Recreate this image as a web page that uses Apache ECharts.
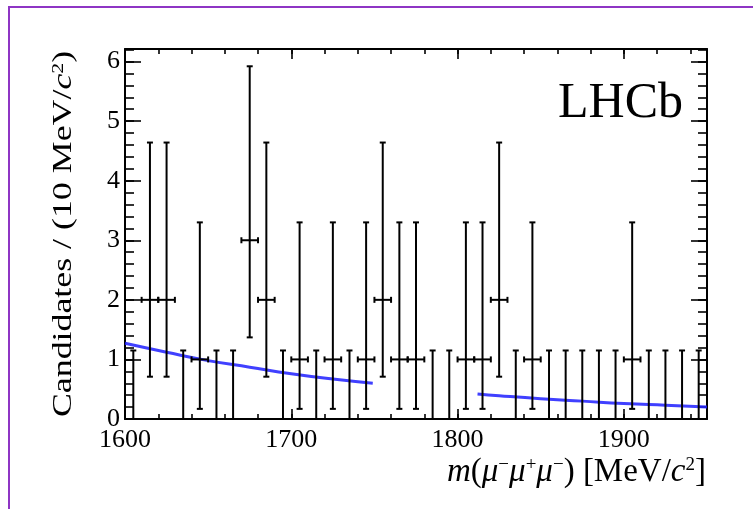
<!DOCTYPE html>
<html>
<head>
<meta charset="utf-8">
<script src="https://cdn.jsdelivr.net/npm/echarts@6/dist/echarts.min.js"></script>
<style>
    html, body { margin: 0; padding: 0; background: #fff; }
    #main { width: 753px; height: 509px; }
</style>
</head>
<body>
<div id="main"></div>
<script>
// bin centres (10 MeV bins)
var binCenters = [1605, 1615, 1625, 1635, 1645, 1655, 1665, 1675, 1685, 1695,
    1705, 1715, 1725, 1735, 1745, 1755, 1765, 1775, 1785, 1795,
    1805, 1815, 1825, 1835, 1845, 1855, 1865, 1875, 1885, 1895,
    1905, 1915, 1925, 1935, 1945];
// candidates per bin
var counts = [0, 2, 2, 0, 1, 0, 0, 3, 2, 0,
    1, 0, 1, 0, 1, 2, 1, 1, 0, 0,
    1, 1, 2, 0, 1, 0, 0, 0, 0, 0,
    1, 0, 0, 0, 0];
// error bar ends
var errLow = [0, 0.71, 0.71, 0, 0.17, 0, 0, 1.37, 0.71, 0,
    0.17, 0, 0.17, 0, 0.17, 0.71, 0.17, 0.17, 0, 0,
    0.17, 0.17, 0.71, 0, 0.17, 0, 0, 0, 0, 0,
    0.17, 0, 0, 0, 0];
var errHigh = [1.15, 4.64, 4.64, 1.15, 3.30, 1.15, 1.15, 5.92, 4.64, 1.15,
    3.30, 1.15, 3.30, 1.15, 3.30, 4.64, 3.30, 3.30, 1.15, 1.15,
    3.30, 3.30, 4.64, 1.15, 3.30, 1.15, 1.15, 1.15, 1.15, 1.15,
    3.30, 1.15, 1.15, 1.15, 1.15];
// fit curve (two sidebands)
var fitLeftX = [1600, 1625, 1650, 1675, 1700, 1725, 1749];
var fitLeftY = [1.27, 1.12, 0.98, 0.87, 0.76, 0.67, 0.60];
var fitRightX = [1812, 1825, 1850, 1875, 1900, 1925, 1950];
var fitRightY = [0.42, 0.39, 0.34, 0.30, 0.26, 0.23, 0.20];

var FONT = 'Liberation Serif';

var pointData = binCenters.map(function (x, i) {
    return [x, counts[i], errLow[i], errHigh[i]];
});

function pairs(xs, ys) {
    return xs.map(function (x, i) { return [x, ys[i]]; });
}

// one axis: major or minor ticks only
function xAx(pos, interval, len, labels) {
    return {
        type: 'value', position: pos, min: 1600, max: 1950, interval: interval,
        axisLine: { show: labels, onZero: false, lineStyle: { color: '#000', width: 2 } },
        axisTick: { inside: true, length: len, lineStyle: { color: '#000', width: 1.6 } },
        axisLabel: {
            show: labels && pos === 'bottom', showMaxLabel: false, margin: 8,
            fontFamily: FONT, fontSize: 26, color: '#000',
            formatter: function (v) { return String(v); }
        },
        splitLine: { show: false }
    };
}
function yAx(pos, interval, len, labels) {
    return {
        type: 'value', position: pos, min: 0, max: 6.21, interval: interval,
        axisLine: { show: labels, onZero: false, lineStyle: { color: '#000', width: 2 } },
        axisTick: { inside: true, length: len, lineStyle: { color: '#000', width: 1.6 } },
        axisLabel: {
            show: labels && pos === 'left', showMaxLabel: false, margin: 5,
            fontFamily: FONT, fontSize: 26, color: '#000'
        },
        splitLine: { show: false }
    };
}

var mychart = echarts.init(document.getElementById('main'));

mychart.setOption({
    animation: false,
    grid: { left: 125, right: 46, top: 49, bottom: 90 },
    xAxis: [
        xAx('bottom', 100, 10, true),
        xAx('bottom', 20, 5, false),
        xAx('top', 100, 10, true),
        xAx('top', 20, 5, false)
    ],
    yAxis: [
        yAx('left', 1, 16, true),
        yAx('left', 0.2, 9, false),
        yAx('right', 1, 16, true),
        yAx('right', 0.2, 9, false)
    ],
    graphic: [
        // purple frame
        { type: 'polyline', shape: { points: [[9, 509], [9, 7], [753, 7]] },
          style: { stroke: '#8e35c4', lineWidth: 2, fill: null } },
        { type: 'text', x: 683, y: 104,
          style: { text: 'LHCb', fontFamily: FONT, fontSize: 50, fill: '#000',
                   textAlign: 'right', textVerticalAlign: 'middle' } },
        // y title
        { type: 'text', x: 64, y: 234, rotation: Math.PI / 2, scaleX: 1.28,
          style: {
              text: 'Candidates / (10 MeV/{i|c}{s|2})',
              fontFamily: FONT, fontSize: 28, fill: '#000',
              textAlign: 'center', textVerticalAlign: 'middle',
              rich: {
                  i: { fontFamily: FONT, fontSize: 28, fontStyle: 'italic', fill: '#000' },
                  s: { fontFamily: FONT, fontSize: 17, fill: '#000', verticalAlign: 'top' }
              }
          } },
        // x title
        { type: 'text', x: 706, y: 472,
          style: {
              text: '{i|m}({i|μ}{s|−}{i|μ}{s|+}{i|μ}{s|−}) [MeV/{i|c}{s|2}]',
              fontFamily: FONT, fontSize: 33, fill: '#000',
              textAlign: 'right', textVerticalAlign: 'middle',
              rich: {
                  i: { fontFamily: FONT, fontSize: 33, fontStyle: 'italic', fill: '#000' },
                  s: { fontFamily: FONT, fontSize: 19, fill: '#000', verticalAlign: 'top' }
              }
          } }
    ],
    series: [
        {
            name: 'fit-left', type: 'line', smooth: true, showSymbol: false,
            data: pairs(fitLeftX, fitLeftY),
            lineStyle: { color: '#1f1fff', width: 3, opacity: 0.85 }, z: 1
        },
        {
            name: 'fit-right', type: 'line', smooth: true, showSymbol: false,
            data: pairs(fitRightX, fitRightY),
            lineStyle: { color: '#1f1fff', width: 3, opacity: 0.85 }, z: 1
        },
        {
            name: 'data', type: 'custom', z: 3,
            data: pointData,
            renderItem: function (params, api) {
                var x = api.value(0), n = api.value(1);
                var c = api.coord([x, n]);
                var t = api.coord([x, api.value(3)]);
                var b = api.coord([x, api.value(2)]);
                var hw = api.size([10, 0])[0] / 2;
                var st = { stroke: '#000', lineWidth: 2 };
                var cap = 3;
                var kids = [
                    { type: 'line', shape: { x1: b[0], y1: b[1], x2: t[0], y2: t[1] }, style: st },
                    { type: 'line', shape: { x1: t[0] - cap, y1: t[1], x2: t[0] + cap, y2: t[1] }, style: st },
                    { type: 'line', shape: { x1: b[0] - cap, y1: b[1], x2: b[0] + cap, y2: b[1] }, style: st }
                ];
                if (n > 0) {
                    kids.push(
                        { type: 'line', shape: { x1: c[0] - hw, y1: c[1], x2: c[0] + hw, y2: c[1] }, style: st },
                        { type: 'line', shape: { x1: c[0] - hw, y1: c[1] - cap, x2: c[0] - hw, y2: c[1] + cap }, style: st },
                        { type: 'line', shape: { x1: c[0] + hw, y1: c[1] - cap, x2: c[0] + hw, y2: c[1] + cap }, style: st }
                    );
                }
                return { type: 'group', children: kids };
            }
        }
    ]
});
</script>
</body>
</html>
